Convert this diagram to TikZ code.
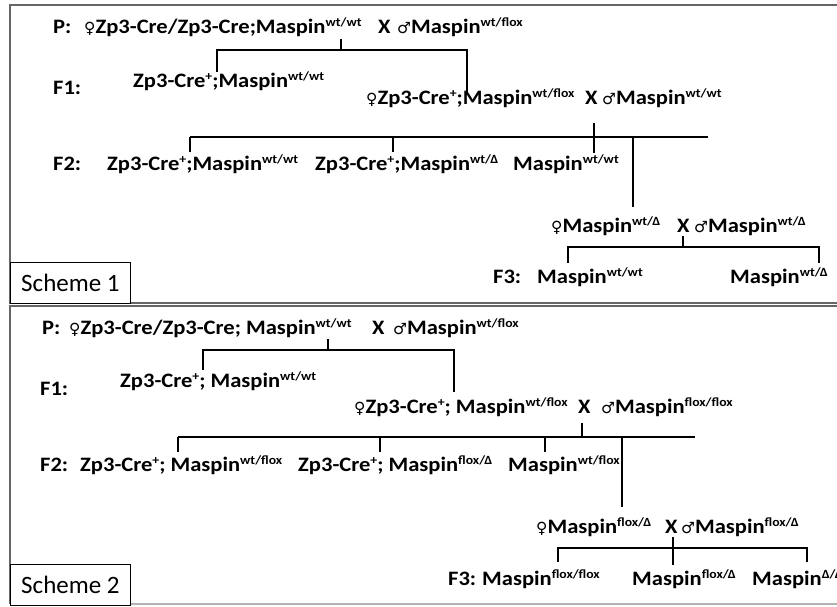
\documentclass[tikz,border=0pt]{standalone}
\usepackage{fontspec}
\setmainfont{Carlito}
\newfontfamily\gfont[FakeStretch=1.1]{Carlito}
\newfontfamily\symfont{DejaVu Sans}
\newcommand{\gsup}[1]{\raisebox{0.34em}{\fontsize{12.5}{12.5}\selectfont #1}}
\newcommand{\fem}{{\symfont\fontsize{15.5}{15.5}\selectfont ♀}}
\newcommand{\mal}{{\symfont\fontsize{15.5}{15.5}\selectfont ♂}}
\newcommand{\cre}{Zp3-Cre\gsup{+}}
\newcommand{\D}{Δ}
\begin{document}
\begin{tikzpicture}[x=1pt,y=-1pt,
  gt/.style={font=\gfont\fontsize{20.5}{22}\selectfont\bfseries, anchor=base west, inner sep=0pt},
  link/.style={line width=1.4pt, black},
  frameline/.style={line width=2.2pt, black!60},
  labelbox/.style={draw=black, line width=0.8pt, fill=white, font=\fontsize{25}{27}\selectfont, inner sep=0pt, minimum width=120pt, minimum height=41pt, anchor=north west}]
\useasboundingbox (0,0) rectangle (837,606);
% ---------- Scheme 1 frame ----------
\coordinate (f1a) at (10,5); \coordinate (f1b) at (850,5);
\coordinate (f1c) at (10,303); \coordinate (f1d) at (850,303);
\draw[frameline] (f1b) -- (f1a) -- (f1c) -- (f1d);
\node[labelbox] (lab1) at (10,262) {Scheme 1};
% ---------- Scheme 1 text ----------
\node[gt] (s1P) at (53,33) {P:};
\node[gt] (s1Pf) at (84,33) {\fem Zp3-Cre/Zp3-Cre;Maspin\gsup{wt/wt}};
\node[gt] (s1PX) at (378,33) {X};
\node[gt] (s1Pm) at (397,33) {\mal Maspin\gsup{wt/flox}};
\node[gt] (s1F1) at (53,94) {F1:};
\node[gt] (s1F1a) at (133,87) {\cre;Maspin\gsup{wt/wt}};
\node[gt] (s1F1b) at (366,104) {\fem\cre;Maspin\gsup{wt/flox}};
\node[gt] (s1F1X) at (585,104) {X};
\node[gt] (s1F1m) at (602,104) {\mal Maspin\gsup{wt/wt}};
\node[gt] (s1F2) at (53,170) {F2:};
\node[gt] (s1F2a) at (107,170) {\cre;Maspin\gsup{wt/wt}};
\node[gt] (s1F2b) at (315,170) {\cre;Maspin\gsup{wt/\D}};
\node[gt] (s1F2c) at (513,170) {Maspin\gsup{wt/wt}};
\node[gt] (s1Cf) at (551,232) {\fem Maspin\gsup{wt/\D}};
\node[gt] (s1CX) at (677,232) {X};
\node[gt] (s1Cm) at (694,232) {\mal Maspin\gsup{wt/\D}};
\node[gt] (s1F3) at (493,283) {F3:};
\node[gt] (s1F3a) at (537,283) {Maspin\gsup{wt/wt}};
\node[gt] (s1F3b) at (730,283) {Maspin\gsup{wt/\D}};
% ---------- Scheme 1 connectors ----------
\coordinate (s1j0) at (341,39); \coordinate (s1j1) at (341,50);
\coordinate (s1j2) at (217,50); \coordinate (s1j3) at (217,72);
\coordinate (s1j4) at (467,50); \coordinate (s1j5) at (467,95);
\draw[link] (s1j0) -- (s1j1);
\draw[link] (s1j3) -- (s1j2) -- (s1j4) -- (s1j5);
\coordinate (s1k0) at (594,123); \coordinate (s1k1) at (594,153);
\coordinate (s1k2) at (190,137); \coordinate (s1k3) at (708,137);
\coordinate (s1k4) at (190,152); \coordinate (s1k5) at (393,137); \coordinate (s1k6) at (393,152);
\coordinate (s1k7) at (633,137); \coordinate (s1k8) at (633,207);
\draw[link] (s1k0) -- (s1k1);
\draw[link] (s1k2) -- (s1k3);
\draw[link] (s1k2) -- (s1k4);
\draw[link] (s1k5) -- (s1k6);
\draw[link] (s1k7) -- (s1k8);
\coordinate (s1m0) at (683,236); \coordinate (s1m1) at (683,247);
\coordinate (s1m2) at (568,263); \coordinate (s1m3) at (568,247);
\coordinate (s1m4) at (819,247); \coordinate (s1m5) at (819,263);
\draw[link] (s1m0) -- (s1m1);
\draw[link] (s1m2) -- (s1m3) -- (s1m4) -- (s1m5);
% ---------- Scheme 2 frame ----------
\coordinate (f2a) at (10,306); \coordinate (f2b) at (850,306);
\coordinate (f2c) at (10,604); \coordinate (f2d) at (850,604);
\draw[frameline] (f2b) -- (f2a) -- (f2c);
\draw[line width=1.5pt, black!30] (f2c) -- (f2d);
\node[labelbox] (lab2) at (10,564) {Scheme 2};
% ---------- Scheme 2 text ----------
\node[gt] (s2P) at (42,334) {P:};
\node[gt] (s2Pf) at (69,334) {\fem Zp3-Cre/Zp3-Cre; Maspin\gsup{wt/wt}};
\node[gt] (s2PX) at (372,334) {X};
\node[gt] (s2Pm) at (393,334) {\mal Maspin\gsup{wt/flox}};
\node[gt] (s2F1) at (40,395) {F1:};
\node[gt] (s2F1a) at (120,387) {\cre; Maspin\gsup{wt/wt}};
\node[gt] (s2F1b) at (354,413) {\fem\cre; Maspin\gsup{wt/flox}};
\node[gt] (s2F1X) at (578,413) {X};
\node[gt] (s2F1m) at (601,413) {\mal Maspin\gsup{flox/flox}};
\node[gt] (s2F2) at (40,471) {F2:};
\node[gt] (s2F2a) at (80,471) {\cre; Maspin\gsup{wt/flox}};
\node[gt] (s2F2b) at (298,471) {\cre; Maspin\gsup{flox/\D}};
\node[gt] (s2F2c) at (508,471) {Maspin\gsup{wt/flox}};
\node[gt] (s2Cf) at (536,533) {\fem Maspin\gsup{flox/\D}};
\node[gt] (s2CX) at (665,533) {X};
\node[gt] (s2Cm) at (681,533) {\mal Maspin\gsup{flox/\D}};
\node[gt] (s2F3) at (448,585) {F3:};
\node[gt] (s2F3a) at (482,585) {Maspin\gsup{flox/flox}};
\node[gt] (s2F3b) at (632,585) {Maspin\gsup{flox/\D}};
\node[gt] (s2F3c) at (752,585) {Maspin\gsup{\D/\D}};
% ---------- Scheme 2 connectors ----------
\coordinate (s2j0) at (328,339); \coordinate (s2j1) at (328,350);
\coordinate (s2j2) at (203,350); \coordinate (s2j3) at (203,370);
\coordinate (s2j4) at (454,350); \coordinate (s2j5) at (454,392);
\draw[link] (s2j0) -- (s2j1);
\draw[link] (s2j3) -- (s2j2) -- (s2j4) -- (s2j5);
\coordinate (s2k0) at (582,423); \coordinate (s2k1) at (582,437);
\coordinate (s2k2) at (178,437); \coordinate (s2k3) at (695,437);
\coordinate (s2k4) at (178,452); \coordinate (s2k5) at (380,437); \coordinate (s2k6) at (380,452);
\coordinate (s2k7) at (545,437); \coordinate (s2k8) at (545,452);
\coordinate (s2k9) at (622,437); \coordinate (s2k10) at (622,507);
\draw[link] (s2k0) -- (s2k1);
\draw[link] (s2k2) -- (s2k3);
\draw[link] (s2k2) -- (s2k4);
\draw[link] (s2k5) -- (s2k6);
\draw[link] (s2k7) -- (s2k8);
\draw[link] (s2k9) -- (s2k10);
\coordinate (s2m0) at (673,537); \coordinate (s2m1) at (673,565);
\coordinate (s2m2) at (558,562); \coordinate (s2m3) at (558,548);
\coordinate (s2m4) at (807,548); \coordinate (s2m5) at (807,562);
\draw[link] (s2m0) -- (s2m1);
\draw[link] (s2m2) -- (s2m3) -- (s2m4) -- (s2m5);
\end{tikzpicture}
\end{document}
